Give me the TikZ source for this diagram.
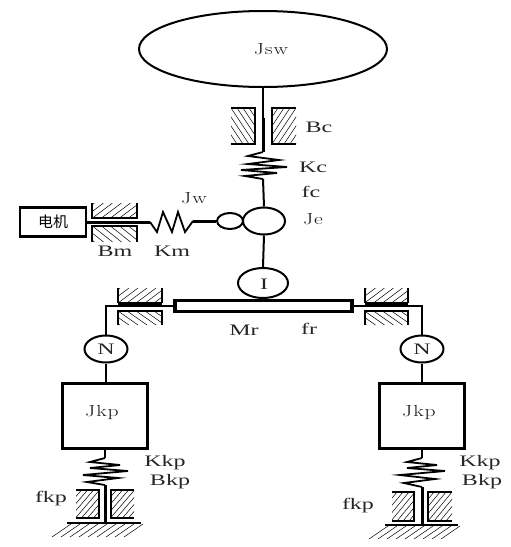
\documentclass[tikz,border=0pt]{standalone}
\usepackage{fontspec}
\setmainfont[FakeStretch=1.5]{Liberation Serif}
\newfontfamily\thinfont[FakeStretch=1.35,LetterSpace=6]{Latin Modern Roman}
\newfontfamily\cjk{Noto Sans CJK SC}
\usetikzlibrary{shapes.geometric}
\tikzset{
  lbl/.style={inner sep=0pt,font=\fontsize{16}{18}\selectfont,text=black!85},
  thinlbl/.style={inner sep=0pt,font=\thinfont\fontsize{16}{18}\selectfont,text=black!90},
  disc/.style={ellipse,draw,line width=2pt,inner sep=0pt},
  shaftline/.style={line width=2pt},
  boldshaft/.style={line width=3pt},
  springline/.style={line width=1.8pt,line join=miter},
  wall/.style={line width=2.4pt},
  hatchline/.style={line width=0.5pt},
  massbox/.style={draw,line width=2.8pt,inner sep=0pt}
}
\newcommand{\hatchfill}[7]{%
  \begin{scope}
    \clip (#1,#2) rectangle (#3,#4);
    \foreach \d in {-84,#7,...,84}
      \draw[hatchline] ({(#1+#3)/2+\d-#5*#6/2},#4) -- ({(#1+#3)/2+\d+#5*#6/2},#2);
  \end{scope}}
\begin{document}
\begin{tikzpicture}[x=1pt,y=-1pt]
\useasboundingbox (0,0) rectangle (511,547);
% top
\node[disc,minimum width=248pt,minimum height=76pt] (sw) at (263,49) {};
\node[thinlbl] (tsw) at (271,49) {Jsw};
\coordinate (cA) at (263,152);
\coordinate (cB) at (263,118);
\coordinate (cC) at (263,179);
\node[disc,minimum width=42pt,minimum height=27pt] (je) at (264,221) {};
\node[disc,minimum width=26pt,minimum height=16pt] (jw) at (230,221) {};
\node[disc,minimum width=50pt,minimum height=30pt] (ii) at (263,283) {};
\node[lbl] at (264,284) {I};
\draw[shaftline] (sw.south) -- (cB);
\draw[boldshaft] (cB) -- (cA);
\draw[springline] (cA) -- (248,156) -- (279,160) -- (248,164) -- (287,167) -- (241,170) -- (277,173) -- (245,176) -- (cC);
\draw[shaftline] (cC) -- (je.north);
\draw[shaftline] (je.south) -- (ii.north);
% Bc
\hatchfill{231}{108}{255}{144}{-1}{24}{-78}
\hatchfill{272}{108}{296}{144}{1}{24}{-78}
\draw[wall] (231,108) -- (255,108) -- (255,144) -- (231,144);
\draw[wall] (296,108) -- (272,108) -- (272,144) -- (296,144);
% motor
\node[massbox,minimum width=66pt,minimum height=29pt] (motor) at (53,222) {\cjk\fontsize{15}{16}\selectfont 电机};
\coordinate (ms) at (150,222);
\coordinate (me) at (193,221);
\draw[boldshaft] (motor.east) -- (ms);
\draw[springline] (ms) -- (157,232) -- (163,212) -- (172,232) -- (178,212) -- (185,232) -- (me);
\draw[boldshaft] (me) -- (jw.west);
\hatchfill{92}{203}{137}{218}{1}{20}{-75}
\hatchfill{92}{226}{137}{242}{-1}{20}{-75}
\draw[wall] (92,203) -- (92,218) -- (137,218) -- (137,203);
\draw[wall] (92,242) -- (92,226) -- (137,226) -- (137,242);
% bar
\node[draw,line width=3.4pt,minimum width=177pt,minimum height=11pt,inner sep=0pt] (bar) at (263.5,306) {};
\node[disc,minimum width=43pt,minimum height=27pt] (nl) at (106,349) {};
\node[disc,minimum width=43pt,minimum height=27pt] (nr) at (422,349) {};
\node[lbl] at (106,349) {N};
\node[lbl] at (422,349) {N};
\draw[shaftline,line join=miter] (bar.west) -- (nl.north |- bar.west) -- (nl.north);
\draw[shaftline,line join=miter] (bar.east) -- (nr.north |- bar.east) -- (nr.north);
% bearings
\hatchfill{118}{288}{162}{303}{1}{20}{-75}
\hatchfill{118}{311}{162}{325}{-1}{20}{-75}
\draw[line width=1.8pt] (118,288) -- (118,303) (162,288) -- (162,303);
\draw[line width=3.5pt] (118,304) -- (162,304);
\draw[wall] (118,325) -- (118,311) -- (162,311) -- (162,325);
\hatchfill{365}{288}{408}{303}{1}{20}{-75}
\hatchfill{365}{311}{408}{325}{-1}{20}{-75}
\draw[line width=1.8pt] (365,288) -- (365,303) (408,288) -- (408,303);
\draw[line width=3.5pt] (365,304) -- (408,304);
\draw[wall] (365,325) -- (365,311) -- (408,311) -- (408,325);
% masses
\node[massbox,minimum width=85pt,minimum height=65pt] (kl) at (105,416) {};
\node[massbox,minimum width=85pt,minimum height=65pt] (kr) at (422,416) {};
\node[thinlbl] at (102,413) {Jkp};
\node[thinlbl] at (419,413) {Jkp};
\draw[shaftline] (nl.south) -- (nl.south |- kl.north);
\draw[shaftline] (nr.south) -- (nr.south |- kr.north);
% left leg
\coordinate (sl) at (105,458);
\coordinate (el) at (105,485);
\coordinate (gl) at (105,523);
\draw[shaftline] (sl |- kl.south) -- (sl);
\draw[springline] (sl) -- (90,462) -- (120,465) -- (90,468) -- (128,471) -- (83,475) -- (118,478) -- (87,482) -- (el);
\draw[boldshaft] (el) -- (gl);
\hatchfill{76}{490}{99}{518}{1}{24}{-78}
\hatchfill{111}{490}{134}{518}{1}{24}{-78}
\draw[wall] (76,490) -- (99,490) -- (99,518) -- (76,518);
\draw[wall] (134,490) -- (111,490) -- (111,518) -- (134,518);
\draw[wall] (67,523) -- (141,523);
\foreach \x in {71,80,...,143}
  \draw[hatchline] (\x,524) -- ({\x-19},537);
% right leg
\coordinate (sr) at (422,458);
\coordinate (er) at (422,487);
\coordinate (gr) at (422,525);
\draw[shaftline] (sr |- kr.south) -- (sr);
\draw[springline] (sr) -- (407,462) -- (437,465) -- (407,468) -- (445,471) -- (400,475) -- (435,479) -- (404,483) -- (er);
\draw[boldshaft] (er) -- (gr);
\hatchfill{392}{492}{414}{521}{1}{24}{-78}
\hatchfill{428}{492}{452}{521}{1}{24}{-78}
\draw[wall] (392,492) -- (414,492) -- (414,521) -- (392,521);
\draw[wall] (452,492) -- (428,492) -- (428,521) -- (452,521);
\draw[wall] (385,525) -- (458,525);
\foreach \x in {388,397,...,460}
  \draw[hatchline] (\x,526) -- ({\x-19},539);
% labels
\node[lbl] at (319,127) {Bc};
\node[lbl] at (313,167) {Kc};
\node[lbl] at (311,192) {fc};
\node[thinlbl] at (194,198) {Jw};
\node[thinlbl] at (313,219) {Je};
\node[lbl] at (115,251) {Bm};
\node[lbl] at (172,251) {Km};
\node[lbl] at (244,330) {Mr};
\node[lbl] at (309,329) {fr};
\node[lbl] at (165,463) {Kkp};
\node[lbl] at (170,482) {Bkp};
\node[lbl] at (51,499) {fkp};
\node[lbl] at (480,463) {Kkp};
\node[lbl] at (482,482) {Bkp};
\node[lbl] at (358,506) {fkp};
\end{tikzpicture}
\end{document}
